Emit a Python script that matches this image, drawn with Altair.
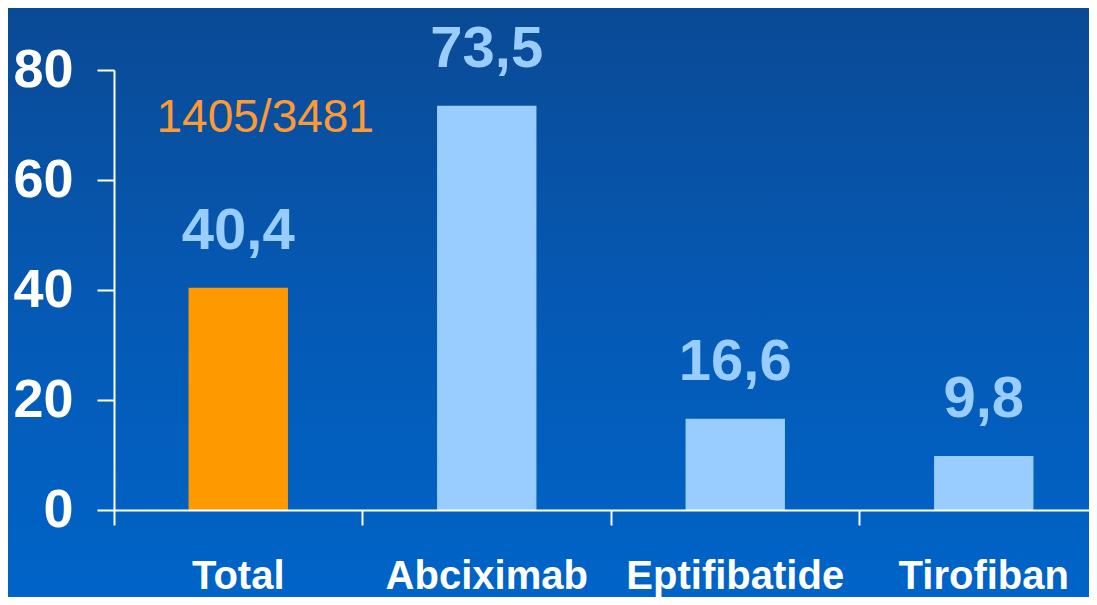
import altair as alt
import pandas as pd

categories = ["Total", "Abciximab", "Eptifibatide", "Tirofiban"]
values = [40.4, 73.5, 16.6, 9.8]
value_labels = ["40,4", "73,5", "16,6", "9,8"]
bar_colors = ["#ff9900", "#99ccff", "#99ccff", "#99ccff"]
y_ticks = [0, 20, 40, 60, 80]

note_category = ["Total"]
note_value = [68.7]
note_text = ["1405/3481"]

df = pd.DataFrame({"cat": categories, "val": values, "lab": value_labels, "col": bar_colors})
note_df = pd.DataFrame({"cat": note_category, "val": note_value, "txt": note_text})

FONT_B = "Liberation Sans"
W, H = 975, 440

xscale = alt.Scale(domain=categories, range=[0, 994], paddingInner=0, paddingOuter=0)
yscale = alt.Scale(domain=[0, 80], nice=False)

bg = alt.Chart(alt.Data(values=[{"a": 1}])).mark_rect(
    color=alt.Gradient(
        gradient="linear", x1=0, x2=0, y1=0, y2=1,
        stops=[alt.GradientStop(offset=0, color="#0a4a95"),
               alt.GradientStop(offset=0.5, color="#0559b4"),
               alt.GradientStop(offset=1, color="#0064c8")],
    )
).encode(x=alt.value(-106), x2=alt.value(W), y=alt.value(-62), y2=alt.value(H + 87))

bars = alt.Chart(df).mark_bar(width=alt.RelativeBandSize(0.4)).encode(
    x=alt.X("cat:N", scale=xscale, sort=categories,
            axis=alt.Axis(title=None, labelAngle=0, bandPosition=0, tickSize=15, tickWidth=2,
                          tickColor="white", domainColor="white", domainWidth=2, zindex=1,
                          labelColor="white", labelFont=FONT_B, labelFontSize=40,
                          labelFontWeight="bold", labelBaseline="alphabetic", labelPadding=63,
                          labelLimit=400, labelOverlap=False)),
    y=alt.Y("val:Q", scale=yscale,
            axis=alt.Axis(title=None, values=y_ticks, grid=False, tickSize=17, tickWidth=2,
                          tickColor="white", domainColor="white", domainWidth=2, zindex=1,
                          labelColor="white", labelFont=FONT_B, labelFontSize=54,
                          labelFontWeight="bold", labelPadding=24)),
    color=alt.Color("col:N", scale=None),
)

labels = alt.Chart(df).mark_text(
    font=FONT_B, fontSize=58, fontWeight="bold", color="#99ccff",
    baseline="alphabetic", align="center", dy=-39,
).encode(x=alt.X("cat:N", scale=xscale, sort=categories, bandPosition=0.5),
         y=alt.Y("val:Q", scale=yscale), text="lab:N")

note = alt.Chart(note_df).mark_text(
    font="Liberation Sans", fontSize=46, color="#ff9933",
    baseline="alphabetic", align="center", dx=27,
).encode(x=alt.X("cat:N", scale=xscale, sort=categories, bandPosition=0.5),
         y=alt.Y("val:Q", scale=yscale), text="txt:N")

chart = alt.layer(bg, bars, labels, note).properties(
    width=W, height=H,
    autosize=alt.AutoSizeParams(type="none"),
    padding={"left": 106, "top": 62, "right": 0, "bottom": 87},
    background="#0559b4",
).configure_view(stroke=None)

chart.save("out.html", embed_options={"renderer": "svg", "actions": False})
